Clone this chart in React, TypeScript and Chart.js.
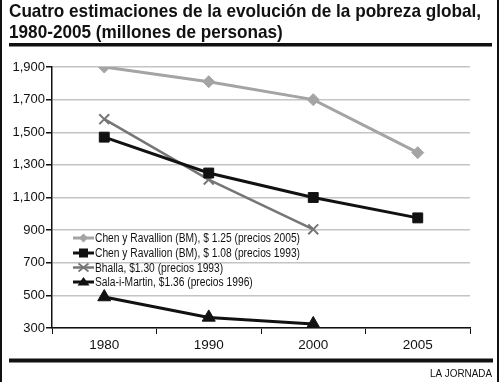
import React, { useEffect, useRef } from 'react';
import { Chart, registerables } from 'chart.js';

Chart.register(...registerables);

const years = ['1980', '1990', '2000', '2005'];
const chen125 = [1900, 1810, 1700, 1375];
const chen108 = [1470, 1250, 1100, 975];
const bhalla = [1580, 1210, 905, null];
const salaMartin = [490, 365, 325, null];
const seriesLabels = [
  'Chen y Ravallion (BM), $ 1.25 (precios 2005)',
  'Chen y Ravallion (BM), $ 1.08 (precios 1993)',
  'Bhalla, $1.30 (precios 1993)',
  'Sala-i-Martin, $1.36 (precios 1996)',
];
const titleLines = [
  'Cuatro estimaciones de la evolución de la pobreza global,',
  '1980-2005 (millones de personas)',
];
const sourceText = 'LA JORNADA';
const yMin = 300;
const yMax = 1900;
const yStep = 200;

const seriesColors = ['#a4a4a4', '#111111', '#767676', '#111111'];
const seriesStyles = ['rectRot', 'rect', 'crossRot', 'triangle'];

const SANS = "'Liberation Sans', Arial, sans-serif";

function drawMarker(ctx: CanvasRenderingContext2D, style: string, x: number, y: number, r: number, color: string) {
  ctx.save();
  ctx.fillStyle = color;
  ctx.strokeStyle = color;
  ctx.beginPath();
  if (style === 'rectRot') {
    ctx.moveTo(x, y - r);
    ctx.lineTo(x + r, y);
    ctx.lineTo(x, y + r);
    ctx.lineTo(x - r, y);
    ctx.closePath();
    ctx.fill();
  } else if (style === 'rect') {
    ctx.rect(x - r, y - r, 2 * r, 2 * r);
    ctx.fill();
  } else if (style === 'crossRot') {
    ctx.lineWidth = 1.8;
    ctx.moveTo(x - r, y - r * 0.8);
    ctx.lineTo(x + r, y + r * 0.8);
    ctx.moveTo(x - r, y + r * 0.8);
    ctx.lineTo(x + r, y - r * 0.8);
    ctx.stroke();
  } else if (style === 'triangle') {
    ctx.moveTo(x, y - r);
    ctx.lineTo(x + r * 1.2, y + r * 0.7);
    ctx.lineTo(x - r * 1.2, y + r * 0.7);
    ctx.closePath();
    ctx.fill();
  }
  ctx.restore();
}

function fitText(ctx: CanvasRenderingContext2D, text: string, x: number, y: number, sx: number) {
  ctx.save();
  ctx.translate(x, y);
  ctx.scale(sx, 1);
  ctx.fillText(text, 0, 0);
  ctx.restore();
}

const decorPlugin = {
  id: 'decor',
  afterDraw(chart: any) {
    const ctx: CanvasRenderingContext2D = chart.ctx;
    const W = chart.width;
    ctx.save();
    // frame sides
    ctx.fillStyle = '#111';
    ctx.fillRect(0, 0, 2, chart.height);
    ctx.fillRect(W - 3, 0, 2, chart.height);
    // title
    ctx.fillStyle = '#111';
    ctx.textBaseline = 'alphabetic';
    ctx.textAlign = 'left';
    ctx.font = `bold 18.5px ${SANS}`;
    const tsx = 472 / ctx.measureText(titleLines[0]).width;
    fitText(ctx, titleLines[0], 9, 17, tsx);
    fitText(ctx, titleLines[1], 9, 38, tsx);
    // thick lines
    ctx.fillRect(9, 43, 483, 3.5);
    ctx.fillRect(9, 358.5, 484, 4);
    // source
    ctx.font = `10.5px ${SANS}`;
    const ssx = 62 / ctx.measureText(sourceText).width;
    fitText(ctx, sourceText, 430, 377, ssx);
    // legend
    const rows = [238, 253, 267.5, 282];
    ctx.textBaseline = 'middle';
    ctx.font = `12.5px ${SANS}`;
    const lsx = 205 / ctx.measureText(seriesLabels[0]).width;
    for (let i = 0; i < seriesLabels.length; i++) {
      const y = rows[i];
      ctx.strokeStyle = seriesColors[i];
      ctx.lineWidth = i === 2 ? 2.5 : 3;
      ctx.beginPath();
      ctx.moveTo(73, y);
      ctx.lineTo(94, y);
      ctx.stroke();
      const r = seriesStyles[i] === 'rect' ? 4.5 : seriesStyles[i] === 'rectRot' ? 4.5 : 5;
      drawMarker(ctx, seriesStyles[i], 83.5, y, r, seriesColors[i]);
      ctx.fillStyle = '#111';
      fitText(ctx, seriesLabels[i], 95, y + 1, lsx);
    }
    ctx.restore();
  },
};

export default function App() {
  const ref = useRef<HTMLCanvasElement | null>(null);
  useEffect(() => {
    document.body.style.margin = '0';
    const canvas = ref.current;
    if (!canvas) return;
    const mk = (data: any[], i: number, radius: number, bw: number) => ({
      label: seriesLabels[i],
      data,
      borderColor: seriesColors[i],
      backgroundColor: seriesColors[i],
      pointBackgroundColor: seriesColors[i],
      pointBorderColor: seriesColors[i],
      borderWidth: bw,
      pointStyle: seriesStyles[i],
      pointRadius: radius,
      pointBorderWidth: seriesStyles[i] === 'crossRot' ? 2 : 1,
      tension: 0,
      spanGaps: false,
    });
    const chart = new Chart(canvas, {
      type: 'line',
      data: {
        labels: years,
        datasets: [
          mk(chen125, 0, 6, 3),
          mk(chen108, 1, 7, 3),
          mk(bhalla, 2, 7, 2.5),
          mk(salaMartin, 3, 7.5, 3),
        ],
      },
      options: {
        animation: false,
        responsive: false,
        layout: { padding: { left: 0, right: 30, top: 67, bottom: 0 } },
        plugins: { legend: { display: false }, title: { display: false }, tooltip: { enabled: false } },
        scales: {
          x: {
            offset: true,
            grid: { display: true, drawOnChartArea: false, drawTicks: true, tickLength: 6, tickColor: '#111', offset: true },
            border: { color: '#111', width: 1.5 },
            ticks: { color: '#111', font: { family: SANS, size: 13.5 }, padding: 3 },
            afterFit: (s: any) => { s.height = 382 - 328; },
          },
          y: {
            min: yMin,
            max: yMax,
            grid: { color: '#c4c4c4', lineWidth: 1.5, tickLength: 6, tickColor: '#111' },
            border: { color: '#111', width: 1.5 },
            ticks: {
              stepSize: yStep,
              color: '#111',
              font: { family: SANS, size: 13 },
              padding: 1,
              callback: (v: any) => Number(v).toLocaleString('en-US'),
            },
            afterFit: (s: any) => { s.width = 52; },
          },
        },
      },
      plugins: [decorPlugin],
    });
    return () => chart.destroy();
  }, []);
  return (
    <div style={{ position: 'absolute', left: 0, top: 0, width: 500, height: 382, background: '#fff' }}>
      <canvas ref={ref} width={500} height={382} style={{ width: 500, height: 382, display: 'block' }} />
    </div>
  );
}
